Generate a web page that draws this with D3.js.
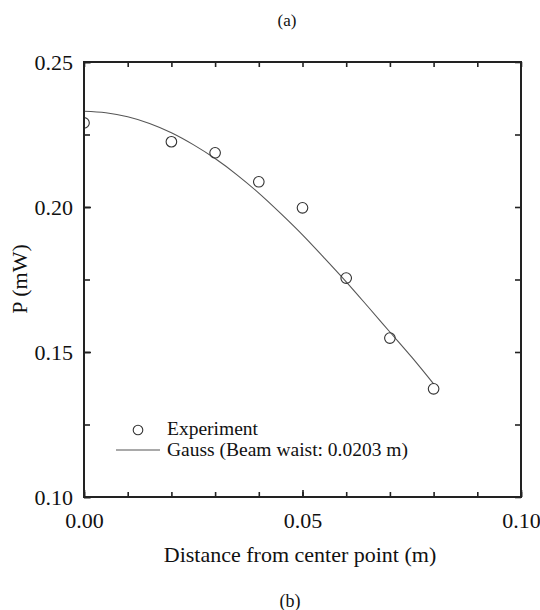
<!DOCTYPE html>
<html>
<head>
<meta charset="utf-8">
<script src="https://cdn.jsdelivr.net/npm/d3@7"></script>
<style>
  body { margin: 0; background: #fff; }
  text { font-family: "Liberation Serif", "Times New Roman", serif; fill: #111; }
</style>
</head>
<body>
<div id="chart"></div>
<script>
(function() {
  // measured points
  var distance = [0.00, 0.02, 0.03, 0.04, 0.05, 0.06, 0.07, 0.08]
  var power = [0.229, 0.2225, 0.2187, 0.2087, 0.1997, 0.1755, 0.1548, 0.1373]

  // fitted curve
  var fitX = [0.000, 0.005, 0.010, 0.015, 0.020, 0.025, 0.030, 0.035, 0.040,
              0.045, 0.050, 0.055, 0.060, 0.065, 0.070, 0.075, 0.080]
  var fitY = [0.2330, 0.2325, 0.2311, 0.2288, 0.2256, 0.2215, 0.2167, 0.2111, 0.2048,
              0.1978, 0.1904, 0.1824, 0.1742, 0.1656, 0.1569, 0.1482, 0.1390]

  var xTicks = [0.00, 0.05, 0.10]
  var yTicks = [0.10, 0.15, 0.20, 0.25]

  var margin = {top: 62, right: 19, bottom: 113, left: 84}
  var width = 540 - margin.left - margin.right,
      height = 610 - margin.top - margin.bottom

  var root = d3.select("#chart").append("svg")
      .attr("width", 540)
      .attr("height", 610)

  root.append("defs").append("clipPath")
      .attr("id", "plot-clip")
    .append("rect")
      .attr("width", width)
      .attr("height", height)

  var svg = root.append("g")
      .attr("transform", "translate(" + margin.left + "," + margin.top + ")")

  var x = d3.scaleLinear().domain([0, 0.10]).range([0, width])
  var y = d3.scaleLinear().domain([0.10, 0.25]).range([height, 0])

  var xMinor = d3.range(0, 11).map(function(i) { return i / 100 })
  var yMinor = d3.range(0, 7).map(function(i) { return 0.10 + i * 0.025 })

  function styleAxis(g) {
    g.select(".domain").remove()
    g.selectAll("line").attr("stroke", "#222").attr("stroke-width", 1.6)
    g.selectAll("text").style("font-size", "22px").attr("fill", "#111")
  }

  // minor ticks, all four sides, pointing inward
  svg.append("g").call(d3.axisBottom(x).tickValues(xMinor).tickSize(-5).tickFormat(""))
    .attr("transform", "translate(0," + height + ")").call(styleAxis)
  svg.append("g").call(d3.axisTop(x).tickValues(xMinor).tickSize(-5).tickFormat(""))
    .call(styleAxis)
  svg.append("g").call(d3.axisLeft(y).tickValues(yMinor).tickSize(-6).tickFormat(""))
    .call(styleAxis)
  svg.append("g").call(d3.axisRight(y).tickValues(yMinor).tickSize(-6).tickFormat(""))
    .attr("transform", "translate(" + width + ",0)").call(styleAxis)

  // labelled axes
  var xAxis = d3.axisBottom(x).tickValues(xTicks).tickSize(-7).tickPadding(15)
    .tickFormat(d3.format(".2f"))
  svg.append("g")
    .attr("class", "axis x-axis")
    .attr("transform", "translate(0," + height + ")")
    .call(xAxis)
    .call(styleAxis)

  var yAxis = d3.axisLeft(y).tickValues(yTicks).tickSize(-7).tickPadding(11)
    .tickFormat(d3.format(".2f"))
  svg.append("g")
    .attr("class", "axis y-axis")
    .call(yAxis)
    .call(styleAxis)

  var plot = svg.append("g").attr("clip-path", "url(#plot-clip)")

  // fit line
  var fit = fitX.map(function(d, i) { return {x: d, y: fitY[i]} })
  var line = d3.line()
    .x(function(d) { return x(d.x) })
    .y(function(d) { return y(d.y) })
    .curve(d3.curveMonotoneX)

  plot.append("path")
    .datum(fit)
    .attr("d", line)
    .attr("fill", "none")
    .attr("stroke", "#555")
    .attr("stroke-width", 1.1)

  // experiment points
  plot.selectAll(".pt")
    .data(distance)
    .enter().append("circle")
    .attr("class", "pt")
    .attr("cx", function(d) { return x(d) })
    .attr("cy", function(d, i) { return y(power[i]) })
    .attr("r", 5.3)
    .attr("fill", "none")
    .attr("stroke", "#333")
    .attr("stroke-width", 1.1)

  // frame
  svg.append("rect")
    .attr("width", width)
    .attr("height", height)
    .attr("fill", "none")
    .attr("stroke", "#222")
    .attr("stroke-width", 2)

  // legend
  var legend = root.append("g")
  legend.append("circle")
    .attr("cx", 138).attr("cy", 430).attr("r", 4.8)
    .attr("fill", "none").attr("stroke", "#333").attr("stroke-width", 1.1)
  legend.append("text")
    .attr("x", 167).attr("y", 435)
    .style("font-size", "19.5px")
    .text("Experiment")
  legend.append("line")
    .attr("x1", 116).attr("x2", 160).attr("y1", 450).attr("y2", 450)
    .attr("stroke", "#555").attr("stroke-width", 1.1)
  legend.append("text")
    .attr("x", 167).attr("y", 456)
    .style("font-size", "19.5px")
    .text("Gauss (Beam waist: 0.0203 m)")

  // titles
  root.append("text")
    .attr("x", 300)
    .attr("y", 562)
    .attr("text-anchor", "middle")
    .style("font-size", "22px")
    .text("Distance from center point (m)")

  root.append("text")
    .attr("transform", "translate(27,279) rotate(-90)")
    .attr("text-anchor", "middle")
    .style("font-size", "22px")
    .text("P (mW)")

  root.append("text")
    .attr("x", 287).attr("y", 26)
    .attr("text-anchor", "middle")
    .style("font-size", "17px")
    .text("(a)")

  root.append("text")
    .attr("x", 290).attr("y", 607)
    .attr("text-anchor", "middle")
    .style("font-size", "18px")
    .text("(b)")
})()
</script>
</body>
</html>
